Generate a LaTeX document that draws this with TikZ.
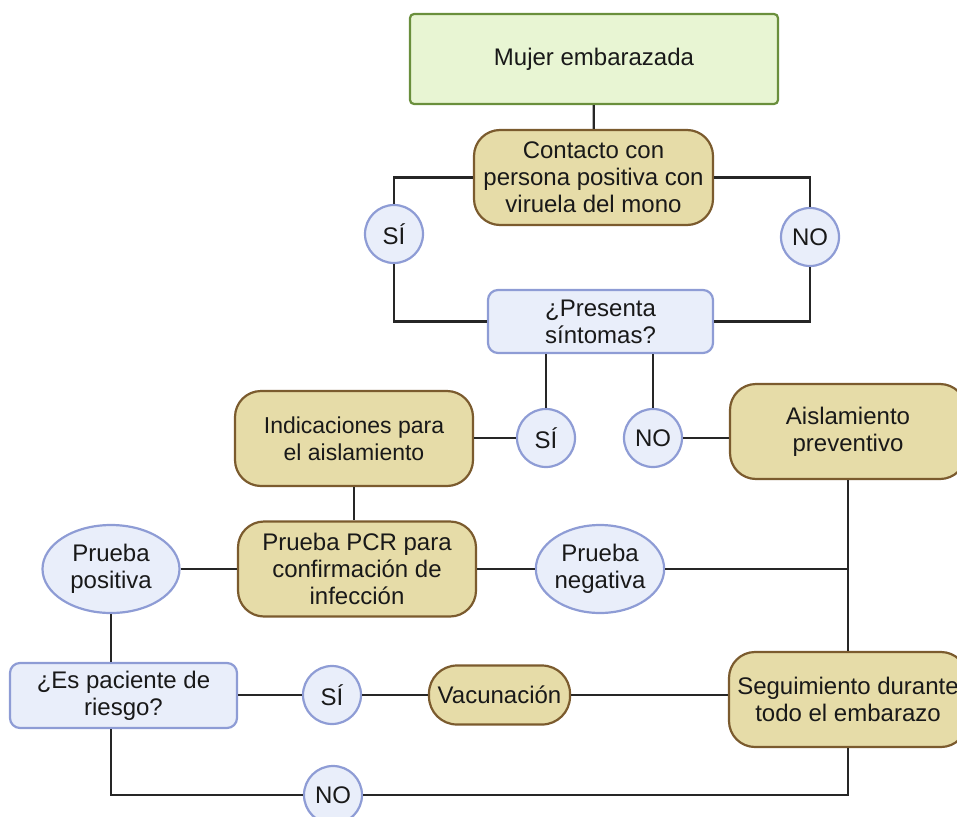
\documentclass[tikz,border=0pt]{standalone}
\usepackage{fontspec}
\setmainfont{Liberation Sans}
\usepackage{tikz}
\usetikzlibrary{positioning,calc,shapes.geometric}
\definecolor{grfill}{HTML}{E8F5D3}
\definecolor{grline}{HTML}{6A8F3C}
\definecolor{khfill}{HTML}{E6DCA8}
\definecolor{khline}{HTML}{7B5B2E}
\definecolor{blfill}{HTML}{E9EEFA}
\definecolor{blline}{HTML}{8E9CD5}
\tikzset{
  box/.style={draw, line width=2.2pt, align=center, font=\fontsize{24}{27}\selectfont, inner sep=2pt, text=black!90},
  start/.style={box, draw=grline, fill=grfill, rounded corners=4pt},
  act/.style={box, draw=khline, fill=khfill, rounded corners=26pt, minimum height=95pt},
  ask/.style={box, draw=blline, fill=blfill, rounded corners=10pt},
  ans/.style={box, circle, draw=blline, fill=blfill, minimum size=58pt, inner sep=0pt},
  res/.style={box, ellipse, draw=blline, fill=blfill, minimum height=88pt, inner sep=0pt},
  link/.style={line width=2.3pt, draw=black!85}}

\begin{document}
\begin{tikzpicture}[x=1pt,y=-1pt]
  \useasboundingbox (0,0) rectangle (957,816);
  \clip (0,0) rectangle (957,816);
  % nodes
  \node[start, minimum width=368pt, minimum height=90pt] (mujer) at (594,59) {Mujer embarazada};
  \node[act, minimum width=239pt] (contacto) at (593.5,177.5) {Contacto con\\persona positiva con\\viruela del mono};
  \node[ans] (si1) at (394,234) {SÍ};
  \node[ans] (no1) at (810,237) {NO};
  \node[ask, minimum width=225pt, minimum height=63pt] (sintomas) at (600.5,321.5) {¿Presenta\\síntomas?};
  \node[ans] (si2) at (546,438) {SÍ};
  \node[ans] (no2) at (653,438) {NO};
  \node[act, minimum width=238pt, font=\fontsize{23}{27}\selectfont] (indic) at (354,438.5) {Indicaciones para\\el aislamiento};
  \node[act, minimum width=236pt] (aisl) at (848,431.5) {Aislamiento\\preventivo};
  \node[act, minimum width=238pt] (pcr) at (357,569) {Prueba PCR para\\confirmación de\\infección};
  \node[res, minimum width=137pt] (pos) at (111,569) {Prueba\\positiva};
  \node[res, minimum width=128pt] (neg) at (600,569) {Prueba\\negativa};
  \node[act, minimum width=238pt] (segu) at (848,699.5) {Seguimiento durante\\todo el embarazo};
  \node[ask, minimum width=227pt, minimum height=65pt] (riesgo) at (123.5,695.5) {¿Es paciente de\\riesgo?};
  \node[ans] (si3) at (332,695) {SÍ};
  \node[act, minimum width=141pt, minimum height=59pt, rounded corners=28pt] (vac) at (499.5,695) {Vacunación};
  \node[ans] (no3) at (333,795) {NO};
  % connectors
  \draw[link] (mujer) -- (contacto);
  \draw[link] (contacto.west) -| (si1.north);
  \draw[link] (si1.south) |- (sintomas.west);
  \draw[link] (contacto.east) -| (no1.north);
  \draw[link] (no1.south) |- (sintomas.east);
  \draw[link] (si2.north) -- (si2.north |- sintomas.south);
  \draw[link] (no2.north) -- (no2.north |- sintomas.south);
  \draw[link] (si2.west) -- (si2.west -| indic.east);
  \draw[link] (no2.east) -- (no2.east -| aisl.west);
  \draw[link] (indic.south) -- (indic.south |- pcr.north);
  \draw[link] (pos) -- (pcr);
  \draw[link] (pcr) -- (neg);
  \draw[link] (aisl) -- (segu);
  \draw[link] (neg.east) -- (neg.east -| aisl.south);
  \draw[link] (pos.south) -- (pos.south |- riesgo.north);
  \draw[link] (si3.west) -- (si3.west -| riesgo.east);
  \draw[link] (si3) -- (vac);
  \draw[link] (vac.east) -- (vac.east -| segu.west);
  \draw[link] (pos.south |- riesgo.south) |- (no3.west);
  \draw[link] (no3.east) -| (segu.south);
\end{tikzpicture}
\end{document}
